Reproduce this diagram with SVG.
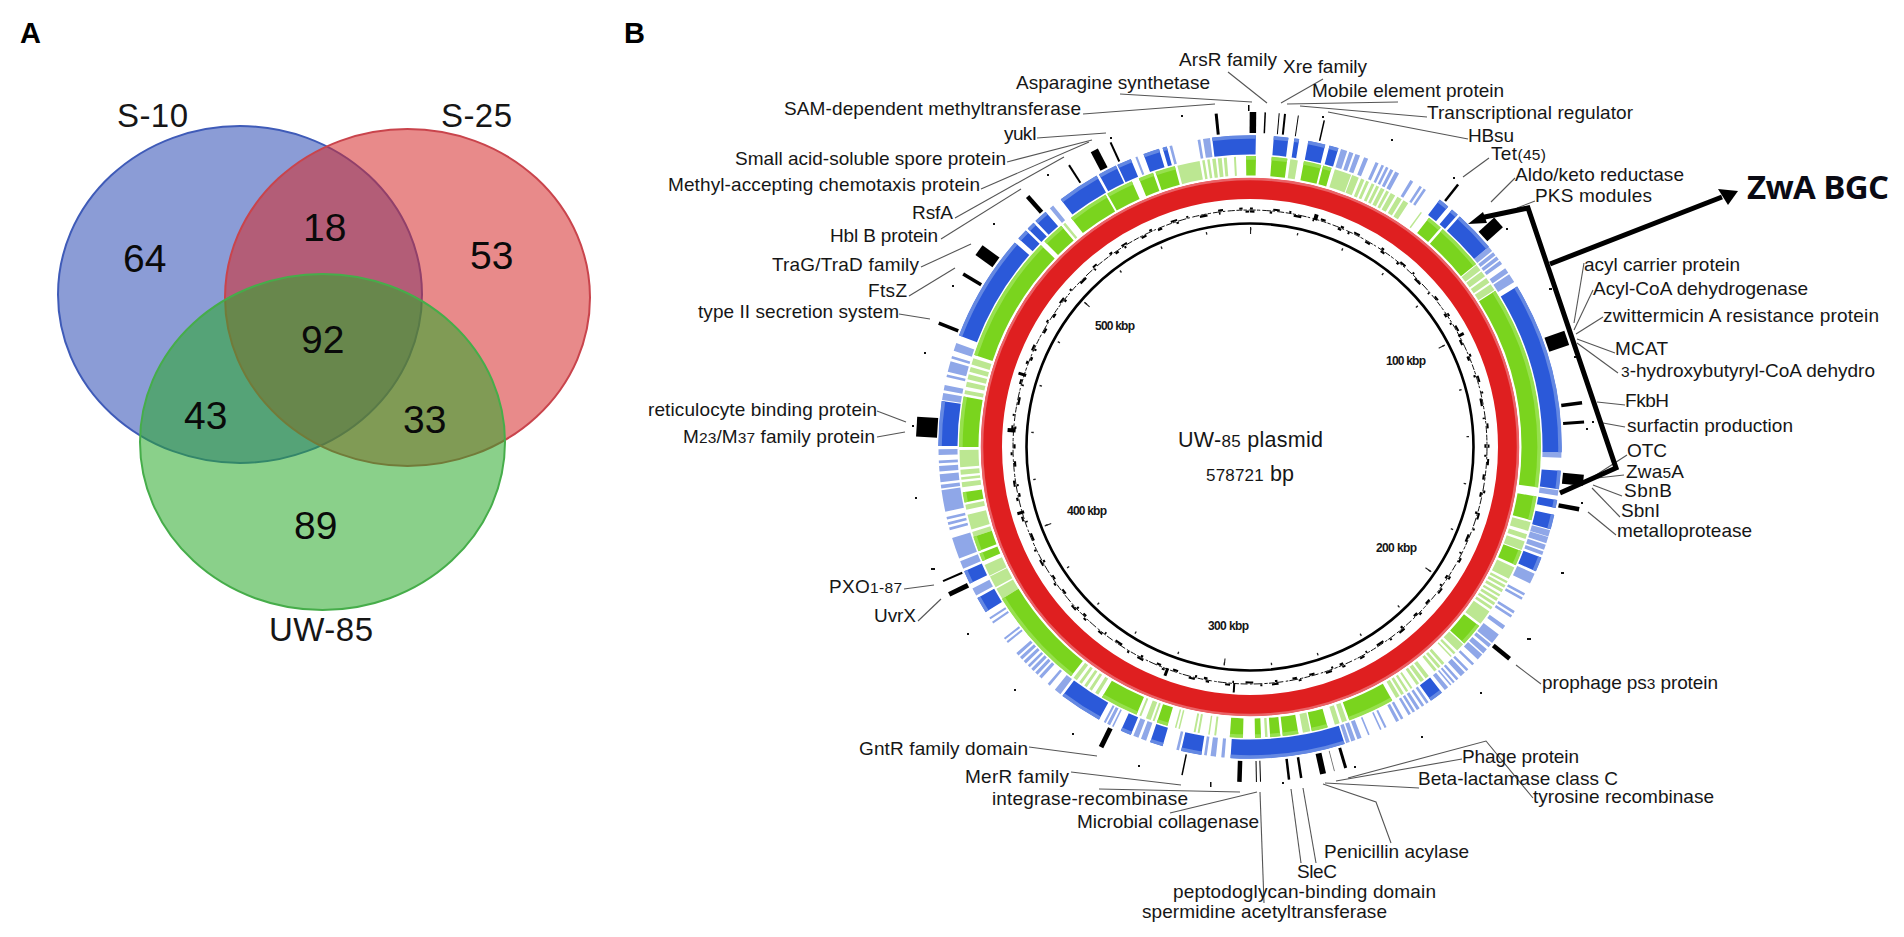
<svg xmlns="http://www.w3.org/2000/svg" width="1904" height="937" viewBox="0 0 1904 937">
<style>
text{font-family:"Liberation Sans",Arial,sans-serif;fill:#161616}
.panel{font-size:29px;font-weight:700;fill:#000}
.vl{font-size:33px}
.vn{font-size:39px;fill:#0a0a0a}
.l{font-size:19px}
.s{font-size:15.5px}
.k{font-size:12px;font-weight:700}
.big{font-size:21.5px}
.mid{font-size:17px}
.c{fill:none;stroke:#555;stroke-width:1.1}
.ring{fill:none}
.t{fill:#000}
.d{fill:#111}
</style>
<defs>
<circle id="blueS" r="302" pathLength="360" stroke-dasharray="1.1 3.3 2.7 1.1 .9 1.7 3.2 .8 1.7 21 2 .9 1.4 .5 7.7 9 32 3.4 3.4 2 1.5 1.3 2.7 5.5 2.7 28.5 2.5 17.8 21.3 5.4 3.8 3.5 2.4 3.8 2 4.5 8 21 3 3 2.5 23.7 8.3 12.5 20 1 2 .5 1.5 .5 2.5 3.6 7.9 .5 3.5 .3 2.7 2.5 3 .7 .8 8.5 7"/>
<circle id="blueP" r="302" pathLength="360" stroke-dasharray="0 17 1.2 .4 .8 .4 .9 .8 .8 1.5 .6 .6 .5 .4 .5 .4 .6 .4 .8 2.4 .6 1.4 .5 .4 .5 15.6 1 .3 .7 .3 .7 .3 .7 1 1 .3 1.7 33 1 6 1 6.5 1.2 .1 1.2 .3 1 .3 .7 3.7 2 2 .5 .4 .5 2.4 .5 .4 .5 1.8 .8 1.2 2 .3 .7 .5 1 .3 1.2 1 .5 1 .5 .4 1 .6 .5 .4 .4 .4 .3 .5 .8 3.7 .5 .5 .5 .5 .6 .4 .5 .4 .5 1.1 .5 .4 .6 2 .4 .6 .3 2.1 .3 1.3 .8 .4 .8 .3 .7 22.7 .6 1 1 .7 .5 4.7 .5 5.8 1 .5 1 4 .3 .4 .6 .3 .4 9.5 1.3 1.2 .5 1.5 .6 .4 .6 .4 .6 .4 .5 .5 .6 .4 .6 .4 .6 2.4 .4 .4 .4 3.3 .4 .5 .4 4.7 1.5 4 1.5 .5 4 1.5 .5 .5 .5 .5 .5 1 4 .3 .7 .5 1.5 .5 1 .5 .5 1 1.1 9.1 1.3 .5 1 1.5 .5 .5 2 .5 .5 1 1.5 30.5 .8 17.6 .4 6.2 .5 4.8 .5 .5 1.3 7.4"/>
<circle id="greenS" r="281" pathLength="360" stroke-dasharray="1.2 3.1 3.1 3.3 3.5 .4 1.7 21.7 3 .5 9.5 6.5 40.5 1.8 4.8 6.4 3 14 4.5 18.2 9.3 4.5 3.2 2.7 3.1 .5 2 1.8 1.2 2.4 2.6 12.5 2.2 4.3 7.6 7.4 20.5 8.4 1.6 .5 3 7 2 9 10 8.5 25.5 1 4.5 2.5 8.2 .4 5.4 1.5 3 .5 4 14.2 .8"/>
<circle id="greenP" r="281" pathLength="360" stroke-dasharray="0 8 1.5 7.5 3.4 .2 1.4 .5 .7 .4 .6 .6 .6 .4 .6 .4 .8 .4 .6 .4 1 .5 1 .4 1.1 3 .3 14.9 1.3 .3 1.2 .4 1.1 .4 1.4 47.7 1.8 .7 1 .5 1.8 3.7 2.5 .5 .5 .4 .6 .4 .6 .5 .5 .4 .6 .4 .6 .4 .6 .5 3 5.3 1.7 .5 .5 .5 .3 1.7 .6 .4 .6 .4 .6 1.4 .8 .4 .8 .4 .6 1 .4 .6 .5 .5 .6 .4 .8 10.7 1 .5 1 5 1.5 7 .5 9.7 .4 .9 .3 1.7 .4 .4 .4 2.8 .3 .4 .3 4.2 .4 .4 1 1 .4 9.1 .7 .8 .6 .6 .6 .6 .6 .6 .8 21.1 2.3 .3 2.4 .2 2.3 6 1 .5 3 1 1 3.5 1 .5 .5 .5 1 .5 3.4 11.1 .8 .7 1 .5 1 .5 1 .5 1.3 32.2 .5 25 4.5 .5 .5 .5 .5 .5 .7 .4 .8 .4 .6 1.4 .4 2.8"/>
</defs>
<rect width="1904" height="937" fill="#fff"/>

<g id="panel-a">
<text class="panel" x="20" y="43">A</text>
<g id="set-s10"><ellipse cx="240" cy="294.5" rx="182" ry="168.5" fill="#2c4bb4" fill-opacity=".55" stroke="#3f5bb8" stroke-width="2"/></g>
<g id="set-s25"><ellipse cx="407.5" cy="297.5" rx="182.5" ry="168.5" fill="#d52a2a" fill-opacity=".55" stroke="#c9444c" stroke-width="2"/></g>
<g id="set-uw85"><ellipse cx="322.5" cy="442" rx="182.5" ry="168" fill="#2aaa2a" fill-opacity=".55" stroke="#46ad4a" stroke-width="2"/></g>
<text class="vl" x="117" y="127" textLength="71">S-10</text>
<text class="vl" x="441" y="127" textLength="71">S-25</text>
<text class="vl" x="269" y="641" textLength="104">UW-85</text>
<text class="vn" x="123" y="272">64</text>
<text class="vn" x="303" y="241">18</text>
<text class="vn" x="470" y="269">53</text>
<text class="vn" x="301" y="353">92</text>
<text class="vn" x="184" y="429">43</text>
<text class="vn" x="403" y="433">33</text>
<text class="vn" x="294" y="539">89</text>
</g>

<g id="panel-b">
<text class="panel" x="624" y="43">B</text>
<g id="rings" transform="translate(1250 447) rotate(-90)" class="ring">
<use href="#blueP" stroke="#8fa7e8" stroke-width="19"/>
<use href="#greenP" stroke="#bce792" stroke-width="19"/>
<use href="#blueS" stroke="#2b59d9" stroke-width="19"/>
<use href="#blueS" transform="scale(1.0265)" stroke="#6488e2" stroke-width="3.5"/>
<use href="#greenS" stroke="#7ad41e" stroke-width="19"/>
<use href="#greenS" transform="scale(1.029)" stroke="#97e04e" stroke-width="3.5"/>
<circle r="258.5" fill="none" stroke="#df1f20" stroke-width="21"/>
<circle r="268" fill="none" stroke="#ea6266" stroke-width="2.5"/>
<circle r="237" fill="none" stroke="#111" stroke-width="1" pathLength="360" stroke-dasharray="1.4 .3 .8 .5 2.1 .3 .6 .6 1.7 .4"/>
<circle r="235.5" fill="none" stroke="#000" stroke-width="2.2" pathLength="360" stroke-dasharray="1.1 3.7 .6 5.3 1.9 2.8 .4 6.1 .9 1.7 .5 4.3 1.3 3.1"/>
<circle r="238.5" fill="none" stroke="#000" stroke-width="2" pathLength="360" stroke-dasharray=".7 4.9 1.6 2.3 .5 7.3 1.2 3.9 .8 2.7 1.5 6.1"/>
<circle r="223.5" fill="none" stroke="#000" stroke-width="2.6"/>
<circle r="218" fill="none" stroke="#222" stroke-width="2.5" pathLength="360" stroke-dasharray=".35 12.09"/>
<circle r="216.5" fill="none" stroke="#222" stroke-width="7" pathLength="360" stroke-dasharray=".3 61.9"/>
</g>
<g id="feature-ticks" transform="translate(1250 447)">
<rect class="t" x="-1.5" y="-335" width="3" height="21" transform="rotate(354.2)"/>
<rect class="t" x="-3.2" y="-335" width="6.5" height="21" transform="rotate(.5)"/>
<rect class="t" x="-.8" y="-342" width="1.5" height="6" transform="rotate(-.2)"/>
<rect class="t" x="-.7" y="-335" width="1.5" height="21" transform="rotate(2.6)"/>
<rect class="t" x="-.5" y="-335" width="1" height="21" transform="rotate(5)"/>
<rect class="t" x="-1" y="-335" width="2" height="21" transform="rotate(6)"/>
<rect class="t" x="-.5" y="-335" width="1" height="21" transform="rotate(8.3)"/>
<rect class="t" x="-.7" y="-335" width="1.5" height="21" transform="rotate(12.8)"/>
<rect class="t" x="-1" y="-335" width="2" height="21" transform="rotate(335.4)"/>
<rect class="t" x="-4" y="-335" width="8" height="21" transform="rotate(332.3)"/>
<rect class="t" x="-1" y="-335" width="2" height="21" transform="rotate(327.3)"/>
<rect class="t" x="-2.2" y="-335" width="4.5" height="21" transform="rotate(318.4)"/>
<rect class="t" x="-6" y="-335" width="12" height="21" transform="rotate(306)"/>
<rect class="t" x="-1.7" y="-335" width="3.5" height="21" transform="rotate(301.1)"/>
<rect class="t" x="-1.7" y="-335" width="3.5" height="21" transform="rotate(291.7)"/>
<rect class="t" x="-10" y="-334" width="20" height="21" transform="rotate(273.5)"/>
<rect class="t" x="-1" y="-335" width="2" height="21" transform="rotate(246.4)"/>
<rect class="t" x="-2.5" y="-335" width="5" height="21" transform="rotate(243.9)"/>
<rect class="t" x="-2.5" y="-335" width="5" height="21" transform="rotate(206.4)"/>
<rect class="t" x="-.7" y="-335" width="1.5" height="21" transform="rotate(191.7)"/>
<rect class="t" x="-2.2" y="-335" width="4.5" height="21" transform="rotate(181.8)"/>
<rect class="t" x="-.5" y="-335" width="1" height="21" transform="rotate(178.9)"/>
<rect class="t" x="-.5" y="-335" width="1" height="21" transform="rotate(178.2)"/>
<rect class="t" x="-1.2" y="-335" width="2.5" height="21" transform="rotate(173.3)"/>
<rect class="t" x="-1.2" y="-335" width="2.5" height="21" transform="rotate(171.2)"/>
<rect class="t" x="-3" y="-335" width="6" height="21" transform="rotate(167.4)"/>
<rect fill="#666" x="-.4" y="-335" width=".8" height="21" transform="rotate(165.4)"/>
<rect class="t" x="-1.5" y="-335" width="3" height="21" transform="rotate(163.4)"/>
<rect class="t" x="-2.2" y="-335" width="4.5" height="21" transform="rotate(129.2)"/>
<rect class="t" x="-1.2" y="-335" width="2.5" height="21" transform="rotate(38.4)"/>
<rect class="t" x="-6.5" y="-335" width="13" height="21" transform="rotate(47.9)"/>
<rect class="t" x="-7.5" y="-335" width="15" height="21" transform="rotate(71)"/>
<rect class="t" x="-1.7" y="-335" width="3.5" height="21" transform="rotate(82.4)"/>
<rect class="t" x="-1.5" y="-335" width="3" height="21" transform="rotate(85.7)"/>
<rect class="t" x="-5.5" y="-335" width="11" height="21" transform="rotate(95.7)"/>
<rect class="t" x="-2.2" y="-335" width="4.5" height="21" transform="rotate(100.7)"/>
<rect class="t" x="-1" y="-246" width="2" height="9" transform="rotate(183.8)"/>
<rect class="t" x="-1.5" y="-244" width="3" height="8" transform="rotate(200.4)"/>
<rect class="t" x="-1.5" y="-243" width="3" height="8" transform="rotate(287.7)"/>
<rect class="t" x="-2" y="-243" width="4" height="8" transform="rotate(274)"/>
<rect class="t" x="-1.5" y="-242" width="3" height="7" transform="rotate(254)"/>
<rect class="t" x="-2" y="-242" width="4" height="6" transform="rotate(16)"/>
<rect class="t" x="-1.5" y="-242" width="3" height="6" transform="rotate(62)"/>
</g>
<g id="feature-dots">
<rect class="d" x="1322" y="116" width="2" height="2"/><rect class="d" x="1181" y="115" width="2" height="2"/>
<rect class="d" x="1391" y="139" width="2" height="2"/><rect class="d" x="1110" y="137" width="2" height="2"/>
<rect class="d" x="1047" y="174" width="2" height="2"/><rect class="d" x="1453" y="177" width="2" height="2"/>
<rect class="d" x="1506" y="228" width="2" height="2"/><rect class="d" x="1549" y="288" width="3" height="2"/>
<rect class="d" x="993" y="223" width="2" height="2"/><rect class="d" x="952" y="285" width="2" height="2"/>
<rect class="d" x="924" y="352" width="2" height="2"/><rect class="d" x="912" y="425" width="2" height="2"/>
<rect class="d" x="915" y="497" width="2" height="2"/><rect class="d" x="931" y="568" width="4" height="2"/>
<rect class="d" x="967" y="633" width="2" height="2"/><rect class="d" x="1014" y="689" width="2" height="2"/>
<rect class="d" x="1072" y="733" width="2" height="2"/><rect class="d" x="1138" y="765" width="2" height="2"/>
<rect class="d" x="1210" y="782" width="1.5" height="5"/><rect class="d" x="1282" y="782" width="2" height="2"/>
<rect class="d" x="1354" y="766" width="2" height="2"/><rect class="d" x="1421" y="736" width="2" height="2"/>
<rect class="d" x="1480" y="692" width="2" height="2"/><rect class="d" x="1581" y="502" width="2" height="2"/>
<rect class="d" x="1561" y="572" width="3" height="2"/><rect class="d" x="1527" y="638" width="4" height="2"/>
<rect class="d" x="1574" y="356" width="2" height="2"/><rect class="d" x="1592" y="421" width="2" height="2"/>
<rect class="d" x="1586" y="428" width="2" height="2"/>
</g>

<g id="connectors">
<path class="c" d="M1228 72L1267 103"/>
<path class="c" d="M1323 79L1281 103"/>
<path class="c" d="M1120 94L1252 102"/>
<path class="c" d="M1083 114L1215 104"/>
<path class="c" d="M1398 102L1287 104"/>
<path class="c" d="M1427 117L1300 106"/>
<path class="c" d="M1468 139L1328 112"/>
<path class="c" d="M1037 138L1106 133"/>
<path class="c" d="M1007 162L1092 140"/>
<path class="c" d="M981 189L1089 142"/>
<path class="c" d="M955 218L1064 157"/>
<path class="c" d="M941 239L1021 189"/>
<path class="c" d="M921 267L971 244"/>
<path class="c" d="M909 296L955 268"/>
<path class="c" d="M899 314L930 319"/>
<path class="c" d="M877 411L906 422"/>
<path class="c" d="M877 437L905 432"/>
<path class="c" d="M904 589L934 585"/>
<path class="c" d="M918 621L941 599"/>
<path class="c" d="M1029 747L1097 756"/>
<path class="c" d="M1071 772L1181 785"/>
<path class="c" d="M1099 789L1240 792"/>
<path class="c" d="M1170 813L1257 792"/>
<path class="c" d="M1260 792L1264 903"/>
<path class="c" d="M1291 789L1301 863"/>
<path class="c" d="M1303 788L1316 863"/>
<path class="c" d="M1323 784L1376 802L1391 843"/>
<path class="c" d="M1325 783L1419 788"/>
<path class="c" d="M1336 781L1462 759"/>
<path class="c" d="M1348 778L1486 741L1533 798"/>
<path class="c" d="M1463 177L1489 158"/>
<path class="c" d="M1491 202L1515 178"/>
<path class="c" d="M1517 208L1535 201"/>
<path class="c" d="M1584 263L1574 323"/>
<path class="c" d="M1593 290L1574 330"/>
<path class="c" d="M1603 317L1576 334"/>
<path class="c" d="M1615 353L1577 339"/>
<path class="c" d="M1618 373L1577 343"/>
<path class="c" d="M1625 405L1597 402"/>
<path class="c" d="M1625 427L1603 423"/>
<path class="c" d="M1627 455L1593 477"/>
<path class="c" d="M1624 475L1597 478"/>
<path class="c" d="M1622 496L1593 485"/>
<path class="c" d="M1620 517L1592 488"/>
<path class="c" d="M1616 535L1588 512"/>
<path class="c" d="M1541 684L1516 665"/>
</g>

<g id="zwa-bgc-bracket">
<path d="M1480 218L1528 208L1616 468L1560 493" fill="none" stroke="#000" stroke-width="5"/>
<path d="M1468 224L1483 212L1487 223Z" fill="#000"/>
<path d="M1550 264L1722 197" fill="none" stroke="#000" stroke-width="5"/>
<path d="M1738 191L1718 189L1728 205Z" fill="#000"/>
</g>

<g id="labels">
<text class="l" x="1179" y="66" textLength="98">ArsR family</text>
<text class="l" x="1283" y="73" textLength="84">Xre family</text>
<text class="l" x="1016" y="89" textLength="194">Asparagine synthetase</text>
<text class="l" x="1312" y="97" textLength="192">Mobile element protein</text>
<text class="l" x="784" y="115" textLength="297">SAM-dependent methyltransferase</text>
<text class="l" x="1427" y="119" textLength="206">Transcriptional regulator</text>
<text class="l" x="1004" y="140" textLength="33">yukI</text>
<text class="l" x="1468" y="142" textLength="46">HBsu</text>
<text class="l" x="1491" y="160" textLength="55">Tet<tspan class="s">(45)</tspan></text>
<text class="l" x="735" y="165" textLength="271">Small acid-soluble spore protein</text>
<text class="l" x="668" y="191" textLength="312">Methyl-accepting chemotaxis protein</text>
<text class="l" x="912" y="219" textLength="41">RsfA</text>
<text class="l" x="830" y="242" textLength="108">Hbl B protein</text>
<text class="l" x="772" y="271" textLength="147">TraG/TraD family</text>
<text class="l" x="868" y="297" textLength="39">FtsZ</text>
<text class="l" x="698" y="318" textLength="201">type II secretion system</text>
<text class="l" x="1515" y="181" textLength="169">Aldo/keto reductase</text>
<text class="l" x="1535" y="202" textLength="117">PKS modules</text>
<text x="1747" y="199" textLength="142" style="font-family:'Open Sans',sans-serif;font-size:33px;font-weight:700;fill:#0a0a14">ZwA BGC</text>
<text class="l" x="1584" y="271" textLength="156">acyl carrier protein</text>
<text class="l" x="1593" y="295" textLength="215">Acyl-CoA dehydrogenase</text>
<text class="l" x="1603" y="322" textLength="276">zwittermicin A resistance protein</text>
<text class="l" x="1615" y="355" textLength="53">MCAT</text>
<text class="l" x="1621" y="377" textLength="254"><tspan class="s">3</tspan>-hydroxybutyryl-CoA dehydro</text>
<text class="l" x="1625" y="407" textLength="44">FkbH</text>
<text class="l" x="1627" y="432" textLength="166">surfactin production</text>
<text class="l" x="1627" y="457" textLength="40">OTC</text>
<text class="l" x="1626" y="478" textLength="58">Zwa<tspan class="s">5</tspan>A</text>
<text class="l" x="1624" y="497" textLength="48">SbnB</text>
<text class="l" x="1621" y="517" textLength="39">SbnI</text>
<text class="l" x="1617" y="537" textLength="135">metalloprotease</text>
<text class="l" x="1542" y="689" textLength="176">prophage ps<tspan class="s">3</tspan> protein</text>
<text class="l" x="648" y="416" textLength="229">reticulocyte binding protein</text>
<text class="l" x="683" y="443" textLength="192">M<tspan class="s">23</tspan>/M<tspan class="s">37</tspan> family protein</text>
<text class="l" x="829" y="593" textLength="73">PXO<tspan class="s">1-87</tspan></text>
<text class="l" x="874" y="622" textLength="42">UvrX</text>
<text class="l" x="859" y="755" textLength="169">GntR family domain</text>
<text class="l" x="965" y="783" textLength="104">MerR family</text>
<text class="l" x="992" y="805" textLength="196">integrase-recombinase</text>
<text class="l" x="1077" y="828" textLength="182">Microbial collagenase</text>
<text class="l" x="1324" y="858" textLength="145">Penicillin acylase</text>
<text class="l" x="1297" y="878" textLength="40">SleC</text>
<text class="l" x="1173" y="898" textLength="263">peptodoglycan-binding domain</text>
<text class="l" x="1142" y="918" textLength="245">spermidine acetyltransferase</text>
<text class="l" x="1462" y="763" textLength="117">Phage protein</text>
<text class="l" x="1418" y="785" textLength="200">Beta-lactamase class C</text>
<text class="l" x="1533" y="803" textLength="181">tyrosine recombinase</text>
<text class="big" x="1178" y="447" textLength="145">UW-<tspan class="mid">85</tspan> plasmid</text>
<text class="big" x="1206" y="481" textLength="88"><tspan class="mid">578721</tspan> bp</text>
<text class="k" x="1095" y="330" textLength="40">500 kbp</text>
<text class="k" x="1386" y="365" textLength="40">100 kbp</text>
<text class="k" x="1376" y="552" textLength="41">200 kbp</text>
<text class="k" x="1208" y="630" textLength="41">300 kbp</text>
<text class="k" x="1067" y="515" textLength="40">400 kbp</text>
</g>
</g>
</svg>
